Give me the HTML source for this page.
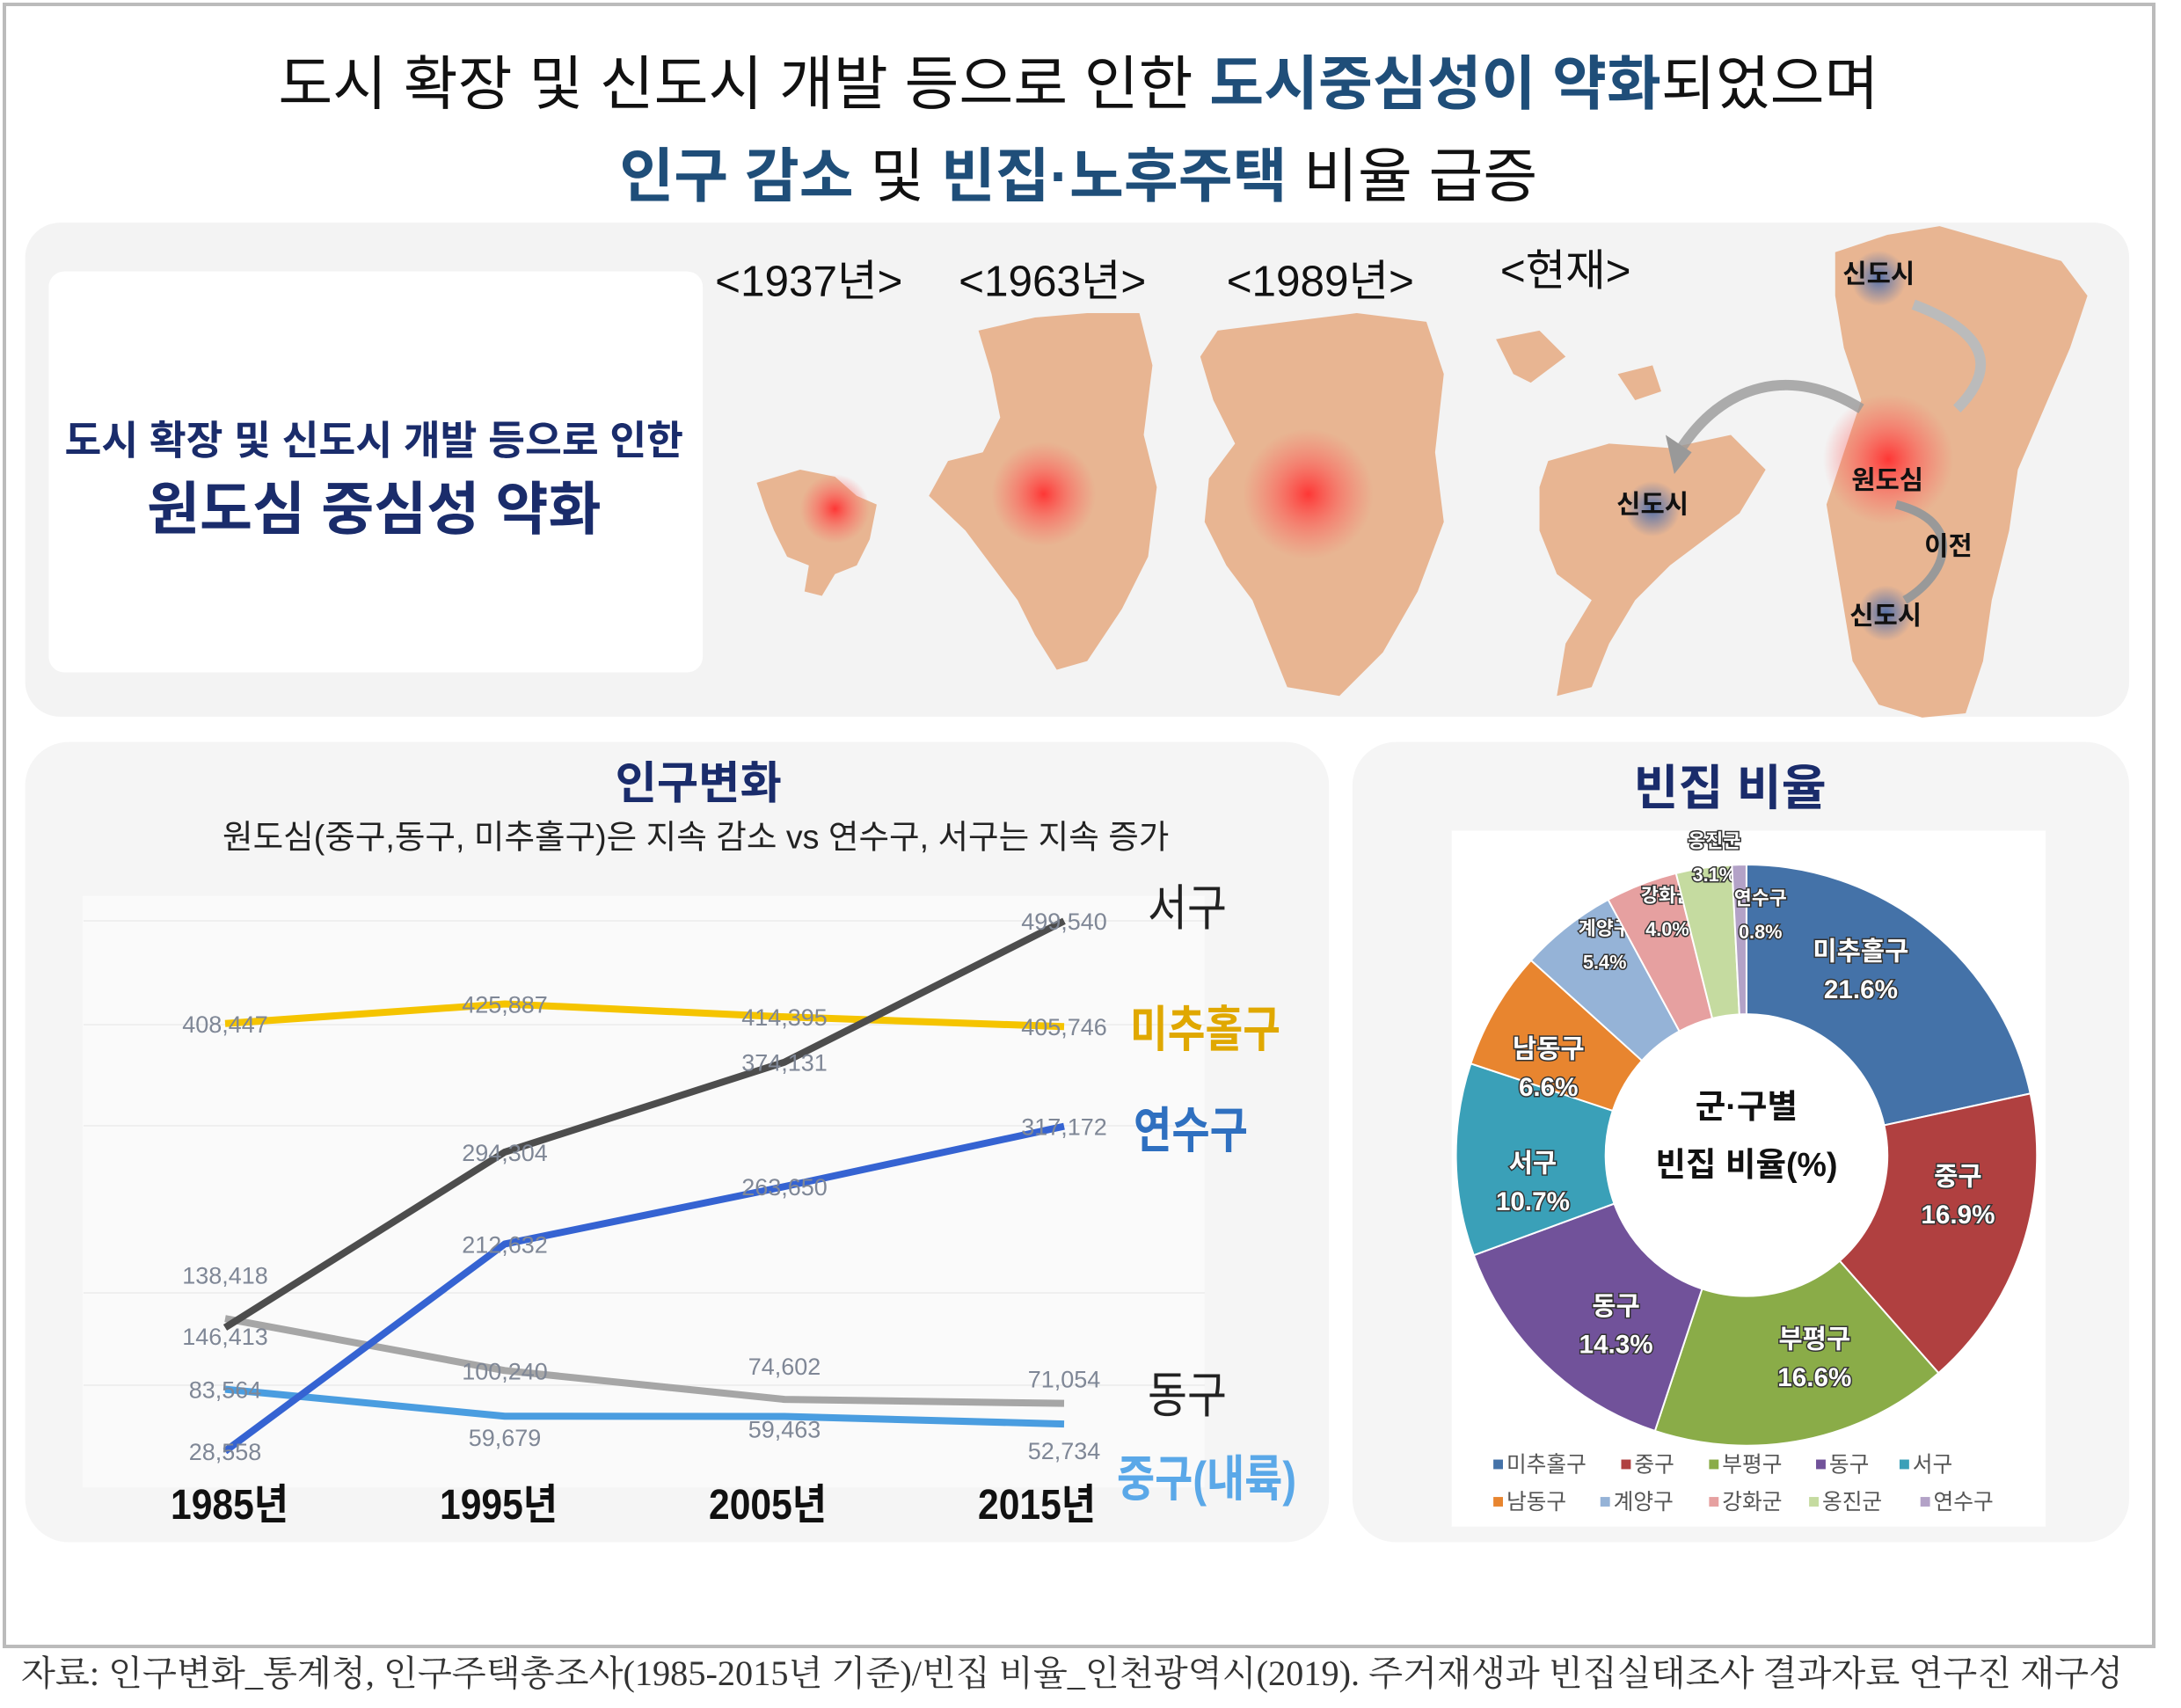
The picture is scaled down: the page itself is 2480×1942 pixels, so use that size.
<!DOCTYPE html>
<html><head><meta charset="utf-8">
<style>
html,body{margin:0;padding:0;background:#fff;}
svg{display:block;font-family:"Liberation Sans","Noto Sans CJK KR",sans-serif;}
.val{font-family:"Liberation Sans Narrow","Liberation Sans","Noto Sans CJK KR",sans-serif;font-size:27px;fill:#7f8796;}
</style></head>
<body>
<svg id="root" width="2480" height="1942" viewBox="0 0 2480 1942" xmlns="http://www.w3.org/2000/svg">
<defs>
<radialGradient id="hot"><stop offset="0" stop-color="#ff3030" stop-opacity="0.95"/><stop offset="0.5" stop-color="#ff5050" stop-opacity="0.5"/><stop offset="1" stop-color="#ff6060" stop-opacity="0"/></radialGradient>
<radialGradient id="cool"><stop offset="0" stop-color="#3060b0" stop-opacity="0.8"/><stop offset="1" stop-color="#3060b0" stop-opacity="0"/></radialGradient>
</defs>
<rect x="5" y="5" width="2444" height="1867" fill="#fff" stroke="#bbb" stroke-width="4"/>
<g transform="scale(0.989)">
<!-- Title -->
<text x="1240" y="120" text-anchor="middle" font-size="68" fill="#111">도시 확장 및 신도시 개발 등으로 인한 <tspan fill="#1f4e79" font-weight="bold">도시중심성이 약화</tspan>되었으며</text>
<text x="1240" y="226" text-anchor="middle" font-size="68" fill="#111"><tspan fill="#1f4e79" font-weight="bold">인구 감소</tspan> 및 <tspan fill="#1f4e79" font-weight="bold">빈집·노후주택</tspan> 비율 급증</text>

<!-- Top panel -->
<rect x="29" y="256" width="2419" height="568" rx="40" fill="#f3f3f3"/>
<rect x="56" y="312" width="752" height="461" rx="18" fill="#fff"/>
<text x="430" y="522" text-anchor="middle" font-size="46" font-weight="bold" fill="#1a2c6b">도시 확장 및 신도시 개발 등으로 인한</text>
<text x="430" y="608" text-anchor="middle" font-size="66" font-weight="bold" fill="#1a2c6b">원도심 중심성 약화</text>

<g fill="#e8b592">
<text x="930" y="340" text-anchor="middle" font-size="50" fill="#111">&lt;1937년&gt;</text>
<text x="1210" y="340" text-anchor="middle" font-size="50" fill="#111">&lt;1963년&gt;</text>
<text x="1518" y="340" text-anchor="middle" font-size="50" fill="#111">&lt;1989년&gt;</text>
<text x="1800" y="328" text-anchor="middle" font-size="50" fill="#111">&lt;현재&gt;</text>
<polygon points="870,555 920,540 960,548 985,570 1008,580 1000,620 985,650 960,660 945,685 925,680 930,650 905,640 890,610 880,585"/>
<circle cx="960" cy="585" r="40" fill="url(#hot)"/>
<polygon points="1125,380 1190,365 1250,360 1310,360 1325,420 1315,500 1330,560 1320,640 1290,700 1250,760 1215,770 1190,730 1170,690 1140,650 1110,610 1068,570 1090,530 1130,520 1150,480 1140,430"/>
<circle cx="1200" cy="568" r="60" fill="url(#hot)"/>
<polygon points="1400,380 1480,370 1560,360 1640,370 1660,430 1650,520 1660,600 1630,680 1590,750 1540,800 1480,790 1460,740 1440,690 1410,650 1385,600 1390,550 1420,510 1395,460 1380,410"/>
<circle cx="1504" cy="568" r="75" fill="url(#hot)"/>
<polygon points="1720,390 1770,380 1800,410 1760,440 1740,430"/>
<polygon points="1860,430 1900,420 1910,450 1880,460" />
<polygon points="1780,530 1850,510 1920,515 1990,500 2030,540 2000,590 1960,620 1920,650 1880,690 1850,740 1830,790 1790,800 1800,740 1830,690 1790,660 1770,610 1770,560"/>
<polygon points="2110,290 2170,270 2230,260 2300,280 2370,300 2400,340 2380,400 2350,470 2320,540 2310,610 2290,690 2280,760 2260,820 2210,825 2160,810 2130,760 2120,700 2110,640 2100,580 2120,520 2140,460 2120,400 2110,340"/>
<circle cx="2171" cy="528" r="75" fill="url(#hot)"/>
<circle cx="2160" cy="320" r="32" fill="url(#cool)"/>
<circle cx="1900" cy="585" r="32" fill="url(#cool)"/>
<circle cx="2168" cy="705" r="32" fill="url(#cool)"/>
<path d="M2140,470 C2060,420 1980,440 1930,520" stroke="#999" stroke-width="12" fill="none" opacity="0.8"/>
<polygon points="1915,500 1945,520 1925,545" fill="#999"/>
<path d="M2250,470 C2300,420 2280,380 2200,350" stroke="#bbb" stroke-width="12" fill="none"/>
<path d="M2180,580 C2260,600 2240,660 2190,690" stroke="#999" stroke-width="10" fill="none"/>
<text x="2160" y="325" text-anchor="middle" font-size="30" font-weight="bold" fill="#111">신도시</text>
<text x="1900" y="590" text-anchor="middle" font-size="30" font-weight="bold" fill="#111">신도시</text>
<text x="2170" y="562" text-anchor="middle" font-size="30" font-weight="bold" fill="#111">원도심</text>
<text x="2240" y="638" text-anchor="middle" font-size="30" font-weight="bold" fill="#111">이전</text>
<text x="2168" y="718" text-anchor="middle" font-size="30" font-weight="bold" fill="#111">신도시</text>
</g>

<!-- Bottom panels -->
<rect x="29" y="853" width="1499" height="920" rx="50" fill="#f5f5f5"/>
<rect x="1555" y="853" width="893" height="920" rx="50" fill="#f5f5f5"/>
<text x="803" y="918" text-anchor="middle" font-size="52" font-weight="bold" fill="#1a2c6b">인구변화</text>
<text x="800" y="975" text-anchor="middle" font-size="38" fill="#222">원도심(중구,동구, 미추홀구)은 지속 감소 vs 연수구, 서구는 지속 증가</text>
<rect x="95" y="1030" width="1290" height="680" fill="#fafafa"/>

<text x="1989" y="925" text-anchor="middle" font-size="56" font-weight="bold" fill="#1a2c6b">빈집 비율</text>
<rect x="1669" y="955" width="683" height="800" fill="#fff"/>
<g id="pie"></g>
<text x="2008" y="1285" text-anchor="middle" font-size="38" font-weight="bold" fill="#111">군·구별</text>
<text x="2008" y="1352" text-anchor="middle" font-size="38" font-weight="bold" fill="#111">빈집 비율(%)</text>
<g id="legend"></g>
</g>
<g id="lines"></g>

<text x="24" y="1916" font-family="'Liberation Serif','Noto Serif CJK SC',serif" font-size="40" fill="#333" textLength="2390" lengthAdjust="spacingAndGlyphs">자료: 인구변화_통계청, 인구주택총조사(1985-2015년 기준)/빈집 비율_인천광역시(2019). 주거재생과 빈집실태조사 결과자료 연구진 재구성</text>
</svg>
<script>
const years = ["1985년","1995년","2005년","2015년"];
const seoGu = [138418, 294304, 374131, 499540];
const michuhol = [408447, 425887, 414395, 405746];
const yeonsu = [28558, 212632, 263650, 317172];
const dongGu = [146413, 100240, 74602, 71054];
const jungGu = [83564, 59679, 59463, 52734];
const seriesNames = ["서구","미추홀구","연수구","동구","중구(내륙)"];

const pieNames = ["미추홀구","중구","부평구","동구","서구","남동구","계양구","강화군","옹진군","연수구"];
const pieValues = [21.6, 16.9, 16.6, 14.3, 10.7, 6.6, 5.4, 4.0, 3.1, 0.8];

const NS = "http://www.w3.org/2000/svg";
function mk(tag, attrs, parent){const e=document.createElementNS(NS,tag);for(const k in attrs)e.setAttribute(k,attrs[k]);parent.appendChild(e);return e;}
const xScale = i => 256 + i*318;
const yScale = v => 1686.6 - v*0.00128;

const g = document.getElementById('lines');
[1047,1165,1280,1470,1575].forEach(y=>{
  const l=mk('line',{x1:95,x2:1370,y1:y,y2:y,stroke:'#efefef','stroke-width':2},g);
  
  
});
const series = [
 {name:'seo-gu', data:seoGu, color:'#4d4d4d', lc:'#222', dy:[-50,10,10,10]},
 {name:'michuhol-gu', data:michuhol, color:'#f5c400', lc:'#e0a800', dy:[10,10,10,10]},
 {name:'yeonsu-gu', data:yeonsu, color:'#3563d2', lc:'#2f70c0', dy:[10,10,10,10]},
 {name:'dong-gu', data:dongGu, color:'#a6a6a6', lc:'#222', dy:[30,10,-28,-18]},
 {name:'jung-gu', data:jungGu, color:'#4a9de0', lc:'#5aa8e8', dy:[10,34,24,40]}
];
const labelX=[1305,1285,1289,1305,1270], labelY=[1052,1190,1305,1606,1701], labelW=[90,171,130,90,204];
const order=[3,4,1,2,0];
order.forEach(si=>{
  const s=series[si];
  const pts=s.data.map((v,i)=>xScale(i)+','+yScale(v)).join(' ');
  const pl=mk('polyline',{points:pts,fill:'none',stroke:s.color,'stroke-width':8,'stroke-linejoin':'round'},g);
  
  
});
series.forEach((s,si)=>{
  s.data.forEach((v,i)=>{
    const t=mk('text',{x:xScale(i),y:yScale(v)+s.dy[i],'text-anchor':'middle',class:'val'},g);
    t.textContent=v.toLocaleString('en-US');
    
    
  });
  const lab=mk('text',{x:labelX[si],y:labelY[si],'font-size':56,fill:s.lc,textLength:labelW[si],lengthAdjust:'spacingAndGlyphs','font-weight':si===1||si===2||si===4?'bold':'normal'},g);
  lab.textContent=seriesNames[si];
  
  
});
years.forEach((y,i)=>{
  const t=mk('text',{x:261+i*306,y:1727,'text-anchor':'middle','font-size':48,'font-weight':'bold',fill:'#111',textLength:134,lengthAdjust:'spacingAndGlyphs'},g);
  t.textContent=y;
  
  
});

// Donut
const pieColors=['#4472a8','#b04040','#8aac48','#71529a','#3aa0b8','#e8852f','#95b3d7','#e6a0a0','#c5dba0','#b3a2c7'];
const cx=2008, cy=1328, R=334, r=162;
const pg=document.getElementById('pie');
const total=pieValues.reduce((a,b)=>a+b,0);
let ang=0;
function pt(a,rad){return [cx+rad*Math.sin(a), cy-rad*Math.cos(a)];}
const smallPos={6:[1845,1075],7:[1917,1037],8:[1971,974],9:[2024,1040]};
pieValues.forEach((v,i)=>{
  const a0=ang/total*2*Math.PI, a1=(ang+v)/total*2*Math.PI; ang+=v;
  const large=(a1-a0)>Math.PI?1:0;
  const [x0,y0]=pt(a0,R),[x1,y1]=pt(a1,R),[x2,y2]=pt(a1,r),[x3,y3]=pt(a0,r);
  const p=mk('path',{d:`M${x0},${y0} A${R},${R} 0 ${large} 1 ${x1},${y1} L${x2},${y2} A${r},${r} 0 ${large} 0 ${x3},${y3} Z`,fill:pieColors[i],stroke:'#fff','stroke-width':2},pg);
  
  
  const am=(a0+a1)/2 - 0.12;
  let lx,ly,fs,gap;
  if(smallPos[i]){[lx,ly]=smallPos[i];fs=22;gap=39;}
  else{[lx,ly]=pt(am,(r+R)/2);ly-=14;fs=30;gap=44;}
  [pieNames[i], v.toFixed(1)+'%'].forEach((txt,k)=>{
    const t=mk('text',{x:lx,y:ly+k*gap,'text-anchor':'middle','font-size':fs,'font-weight':'bold',fill:'#fff',stroke:'#333','stroke-width':3,'paint-order':'stroke'},pg);
    t.textContent=txt;
    
    
  });
});
// Legend
const lg=document.getElementById('legend');
const lxs=[[1717,1864,1965,2088,2184],[1717,1840,1965,2080,2208]];
pieNames.forEach((n,i)=>{
  const row=Math.floor(i/5), col=i%5;
  const x=lxs[row][col], y=1692+row*43;
  const sq=mk('rect',{x:x,y:y-14,width:11,height:11,fill:pieColors[i]},lg);
  
  
  const t=mk('text',{x:x+15,y:y,'font-size':25,fill:'#555'},lg);
  t.textContent=n;
  
  
});
</script>
</body></html>
